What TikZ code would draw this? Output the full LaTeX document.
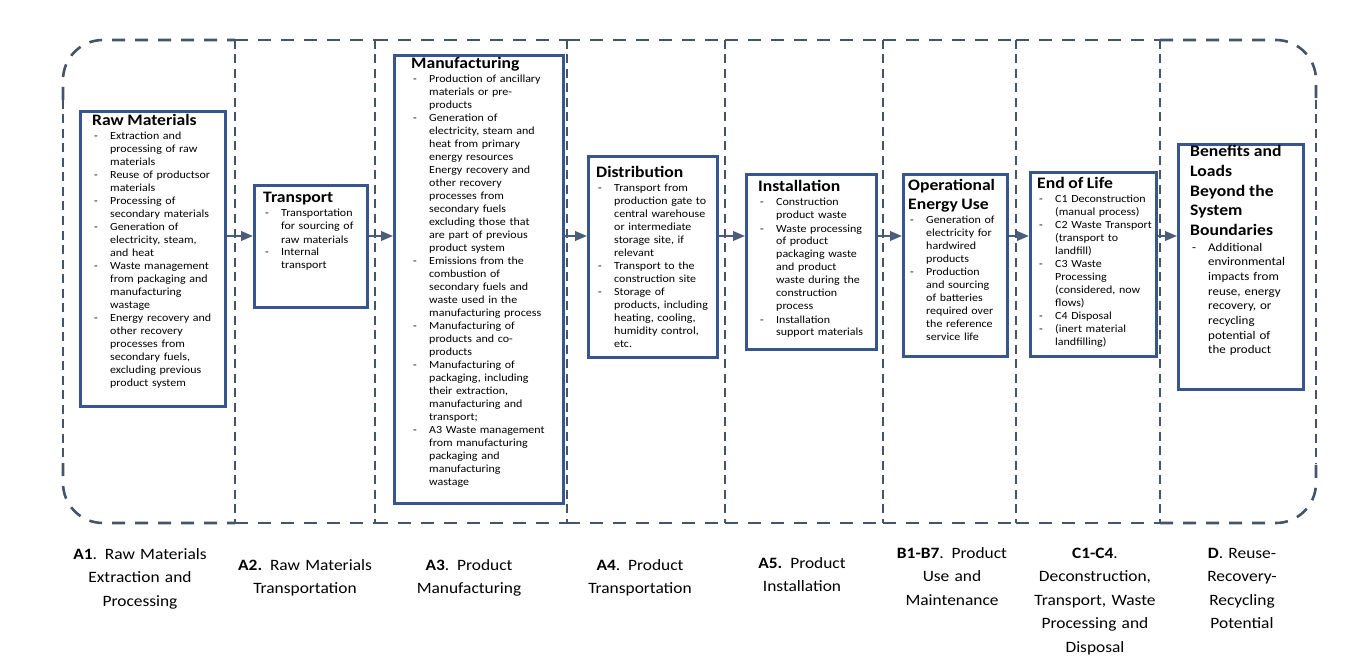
\documentclass[tikz,border=0pt]{standalone}
\usepackage{fontspec}
\setmainfont{Carlito}[FakeStretch=1.1]
\usetikzlibrary{arrows.meta}
\definecolor{boxblue}{RGB}{55,86,142}
\definecolor{dashgray}{RGB}{68,84,106}
\definecolor{flowgray}{RGB}{74,94,124}
\newcommand{\ttl}[1]{{\fontsize{16}{19.6}\selectfont\bfseries #1\par}\vspace{1pt}}
\newcommand{\itm}[1]{\noindent\hangindent=18pt\hangafter=1\makebox[18pt][l]{\hspace{2pt}-}#1\par}

\begin{document}
\begin{tikzpicture}[x=1pt,y=-1pt,
  stagebox/.style={draw=boxblue, line width=2.6pt, fill=white, inner sep=0pt, anchor=north west},
  stagetext/.style={anchor=base west, inner sep=0pt, text width=#1, align=left, font=\fontsize{10.9}{13}\selectfont},
  phase/.style={anchor=base, inner sep=0pt, text width=150pt, align=center, font=\fontsize{15.8}{23.5}\selectfont},
  flow/.style={draw=flowgray, line width=2.3pt, -{Triangle[length=12pt,width=9.5pt]}},
  hline/.style={draw=dashgray, line width=2.6pt, dash pattern=on 13pt off 10pt},
  vline/.style={draw=dashgray, line width=2.6pt, dash pattern=on 9pt off 5.5pt}]
  \useasboundingbox (0,0) rectangle (1370,663);

  \draw[hline, rounded corners=40pt] (63,100) -- (63,40) -- (235,40);
  \draw[hline] (235,40) -- (375,40);
  \draw[hline] (375,40) -- (567,40);
  \draw[hline] (567,40) -- (725,40);
  \draw[hline] (725,40) -- (883,40);
  \draw[hline] (883,40) -- (1016,40);
  \draw[hline] (1016,40) -- (1160,40);
  \draw[hline, rounded corners=40pt] (1160,40) -- (1316,40) -- (1316,100);
  \draw[hline, rounded corners=40pt] (63,463) -- (63,523) -- (235,523);
  \draw[hline] (235,523) -- (375,523);
  \draw[hline] (375,523) -- (567,523);
  \draw[hline] (567,523) -- (725,523);
  \draw[hline] (725,523) -- (883,523);
  \draw[hline] (883,523) -- (1016,523);
  \draw[hline] (1016,523) -- (1160,523);
  \draw[hline, rounded corners=40pt] (1160,523) -- (1316,523) -- (1316,463);
  \draw[vline] (63,100) -- (63,463);
  \draw[vline] (1316,100) -- (1316,463);
  \draw[vline] (235,40) -- (235,523);
  \draw[vline] (375,40) -- (375,523);
  \draw[vline] (567,40) -- (567,523);
  \draw[vline] (725,40) -- (725,523);
  \draw[vline] (883,40) -- (883,523);
  \draw[vline] (1016,40) -- (1016,523);
  \draw[vline] (1160,40) -- (1160,523);

  \node[stagebox, minimum width=145pt, minimum height=295pt] (raw) at (79,110) {};
  \node[stagebox, minimum width=113pt, minimum height=122pt] (trans) at (253,184) {};
  \node[stagebox, minimum width=169pt, minimum height=448pt] (manuf) at (393,54) {};
  \node[stagebox, minimum width=129pt, minimum height=201pt] (distr) at (587,155) {};
  \node[stagebox, minimum width=130pt, minimum height=175pt] (inst) at (745,173) {};
  \node[stagebox, minimum width=104pt, minimum height=182pt] (oper) at (902,173) {};
  \node[stagebox, minimum width=126pt, minimum height=184pt] (eol) at (1029,171) {};
  \node[stagebox, minimum width=125pt, minimum height=245pt] (bene) at (1177,143) {};

  \node[stagetext=132pt] (rawtxt) at (92,126) {\ttl{Raw Materials}
    \itm{Extraction and\newline processing of raw\newline materials}
    \itm{Reuse of productsor\newline materials}
    \itm{Processing of\newline secondary materials}
    \itm{Generation of\newline electricity, steam,\newline and heat}
    \itm{Waste management\newline from packaging and\newline manufacturing\newline wastage}
    \itm{Energy recovery and\newline other recovery\newline processes from\newline secondary fuels,\newline excluding previous\newline product system}};
  \node[stagetext=103pt] (transtxt) at (263,203) {\ttl{Transport}
    \itm{Transportation\newline for sourcing of\newline raw materials}
    \itm{Internal\newline transport}};
  \node[stagetext=150pt] (manuftxt) at (411,69) {\ttl{Manufacturing}
    \itm{Production of ancillary\newline materials or pre-\newline products}
    \itm{Generation of\newline electricity, steam and\newline heat from primary\newline energy resources\newline Energy recovery and\newline other recovery\newline processes from\newline secondary fuels\newline excluding those that\newline are part of previous\newline product system}
    \itm{Emissions from the\newline combustion of\newline secondary fuels and\newline waste used in the\newline manufacturing process}
    \itm{Manufacturing of\newline products and co-\newline products}
    \itm{Manufacturing of\newline packaging, including\newline their extraction,\newline manufacturing and\newline transport;}
    \itm{A3 Waste management\newline from manufacturing\newline packaging and\newline manufacturing\newline wastage}};
  \node[stagetext=120pt] (distrtxt) at (596,178) {\ttl{Distribution}
    \itm{Transport from\newline production gate to\newline central warehouse\newline or intermediate\newline storage site, if\newline relevant}
    \itm{Transport to the\newline construction site}
    \itm{Storage of\newline products, including\newline heating, cooling,\newline humidity control,\newline etc.}};
  \node[stagetext=117pt] (insttxt) at (758,192) {\ttl{Installation}
    \itm{Construction\newline product waste}
    \itm{Waste processing\newline of product\newline packaging waste\newline and product\newline waste during the\newline construction\newline process}
    \itm{Installation\newline support materials}};
  \node[stagetext=98pt] (opertxt) at (908,190) {\ttl{Operational\newline Energy Use}
    \itm{Generation of\newline electricity for\newline hardwired\newline products}
    \itm{Production\newline and sourcing\newline of batteries\newline required over\newline the reference\newline service life}};
  \node[stagetext=125pt] (eoltxt) at (1037,189) {\ttl{End of Life}
    \itm{C1 Deconstruction\newline (manual process)}
    \itm{C2 Waste Transport\newline (transport to\newline landfill)}
    \itm{C3 Waste\newline Processing\newline (considered, now\newline flows)}
    \itm{C4 Disposal}
    \itm{(inert material\newline landfilling)}};
  \node[stagetext=112pt, font=\fontsize{11.8}{14.7}\selectfont] (benetxt) at (1190,157) {\ttl{Benefits and\newline Loads\newline Beyond the\newline System\newline Boundaries}
    \itm{Additional\newline environmental\newline impacts from\newline reuse, energy\newline recovery, or\newline recycling\newline potential of\newline the product}};

  \coordinate (flowy) at (0,236);
  \draw[flow] (raw.east |- flowy) -- (trans.west |- flowy);
  \draw[flow] (trans.east |- flowy) -- (manuf.west |- flowy);
  \draw[flow] (manuf.east |- flowy) -- (distr.west |- flowy);
  \draw[flow] (distr.east |- flowy) -- (inst.west |- flowy);
  \draw[flow] (inst.east |- flowy) -- (oper.west |- flowy);
  \draw[flow] (oper.east |- flowy) -- (eol.west |- flowy);
  \draw[flow] (eol.east |- flowy) -- (bene.west |- flowy);

  \node[phase] (pA1) at (140,559) {\textbf{A1}. Raw Materials\\Extraction and\\Processing};
  \node[phase] (pA2) at (305,570) {\textbf{A2.} Raw Materials\\Transportation};
  \node[phase] (pA3) at (469,570) {\textbf{A3}. Product\\Manufacturing};
  \node[phase] (pA4) at (640,570) {\textbf{A4}. Product\\Transportation};
  \node[phase] (pA5) at (802,568) {\textbf{A5.} Product\\Installation};
  \node[phase] (pB) at (952,558) {\textbf{B1-B7}. Product\\Use and\\Maintenance};
  \node[phase] (pC) at (1095,558) {\textbf{C1-C4}.\\Deconstruction,\\Transport, Waste\\Processing and\\Disposal};
  \node[phase] (pD) at (1242,558) {\textbf{D}. Reuse-\\Recovery-\\Recycling\\Potential};
\end{tikzpicture}
\end{document}
